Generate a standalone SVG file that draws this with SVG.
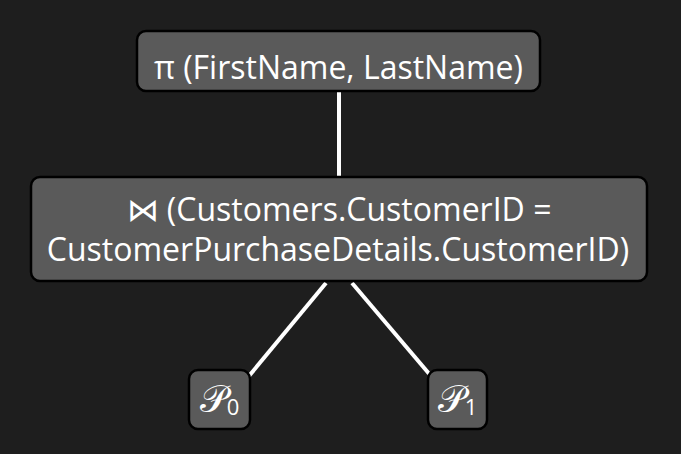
<svg xmlns="http://www.w3.org/2000/svg" width="681" height="454" viewBox="0 0 681 454">
<style>
.node rect{fill:#5a5a5a;stroke:#000;stroke-width:2.5}
.node text{fill:#fff;font-family:"Open Sans","Liberation Sans",sans-serif;font-size:32px;text-anchor:middle}
.node text.p{font-size:38px}
.node text.p tspan{font-size:22px}
.edge{stroke:#fff;stroke-width:4;fill:none}
</style>
<rect width="681" height="454" fill="#1e1e1e"/>
<g id="connectors">
<line class="edge" x1="339" y1="91" x2="339" y2="177"/>
<line class="edge" x1="326" y1="283" x2="249" y2="376"/>
<line class="edge" x1="352" y1="283" x2="431" y2="376"/>
</g>
<g id="project" class="node">
<rect x="137" y="31" width="403" height="60" rx="9"/>
<text x="338.5" y="79">π (FirstName, LastName)</text>
</g>
<g id="join" class="node">
<rect x="31" y="177" width="616" height="104" rx="9"/>
<text x="339" y="221">⋈ (Customers.CustomerID =</text>
<text x="338" y="261">CustomerPurchaseDetails.CustomerID)</text>
</g>
<g id="p0" class="node">
<rect x="189" y="370" width="61" height="59" rx="9"/>
<text class="p" x="219.5" y="412">𝒫<tspan dy="3">0</tspan></text>
</g>
<g id="p1" class="node">
<rect x="428" y="370" width="59" height="59" rx="9"/>
<text class="p" x="457.5" y="412">𝒫<tspan dy="3">1</tspan></text>
</g>
</svg>
